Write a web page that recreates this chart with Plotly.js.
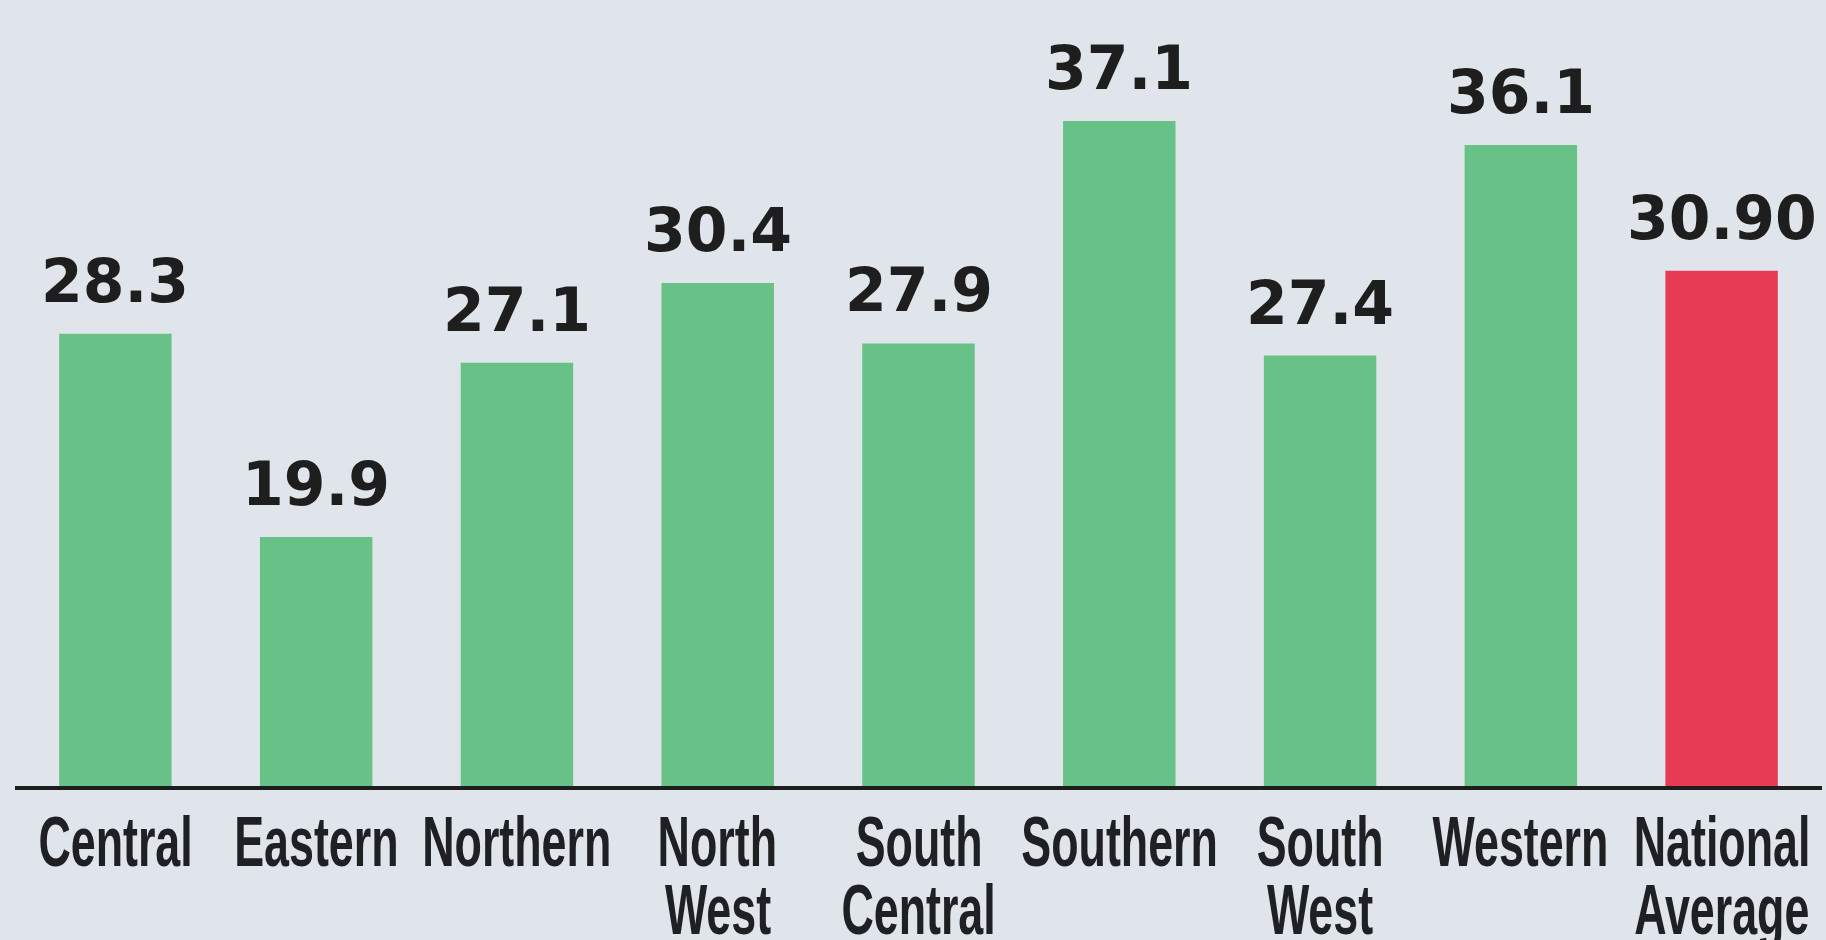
<!DOCTYPE html>
<html>
<head>
<meta charset="utf-8">
<script src="https://cdn.plot.ly/plotly-3.0.1.min.js"></script>
<style>
html,body{margin:0;padding:0;background:#dfe5ea;}
#chart{width:1826px;height:940px;}
</style>
</head>
<body>
<div id="chart"></div>
<script>
const regions = ["Central", "Eastern", "Northern", "North West", "South Central", "Southern", "South West", "Western", "National Average"];
const labelLines = [["Central"], ["Eastern"], ["Northern"], ["North", "West"], ["South", "Central"], ["Southern"], ["South", "West"], ["Western"], ["National", "Average"]];
const values = [28.3, 19.9, 27.1, 30.4, 27.9, 37.1, 27.4, 36.1, 30.90];
const valueLabels = ["28.3", "19.9", "27.1", "30.4", "27.9", "37.1", "27.4", "36.1", "30.90"];
const barColors = ["#68c287", "#68c287", "#68c287", "#68c287", "#68c287", "#68c287", "#68c287", "#68c287", "#e63a55"];

const annotations = [];
regions.forEach((r, i) => {
  annotations.push({
    x: r, y: values[i], xref: 'x', yref: 'y',
    text: valueLabels[i], showarrow: false,
    yanchor: 'bottom', yshift: 16,
    font: {family: 'DejaVu Sans', size: 60, color: '#1e1e1e', weight: 700}
  });
});
regions.forEach((r, i) => {
  labelLines[i].forEach((line, j) => {
    annotations.push({
      x: r, xref: 'x', yref: 'paper', y: 0,
      text: line, showarrow: false, yanchor: 'top',
      yshift: -(15 + j * 68),
      font: {family: 'Liberation Sans, Arial, sans-serif', size: 70, color: '#1f2024', weight: 700}
    });
  });
});

const trace = {
  type: 'bar',
  x: regions,
  y: values,
  marker: {color: barColors, line: {width: 0}},
  hoverinfo: 'x+y'
};

const layout = {
  width: 1826, height: 940,
  margin: {l: 15, r: 4, t: 0, b: 154},
  paper_bgcolor: '#dfe5ea',
  plot_bgcolor: '#dfe5ea',
  bargap: 0.44,
  showlegend: false,
  xaxis: {
    type: 'category',
    range: [-0.5, 8.5], autorange: false,
    showticklabels: false,
    showgrid: false, zeroline: false,
    showline: true, linecolor: '#1e1e1e', linewidth: 4,
    ticks: ''
  },
  yaxis: {
    range: [9.6, 42.1], autorange: false,
    visible: false,
    showgrid: false, zeroline: false
  },
  annotations: annotations
};

Plotly.newPlot('chart', [trace], layout, {displayModeBar: false, staticPlot: true}).then(gd => {
  const nVal = regions.length;
  gd.querySelectorAll('.annotation').forEach(a => {
    const idx = +a.getAttribute('data-index');
    if (idx >= nVal) {
      const t = a.querySelector('text.annotation-text');
      if (t) {
        t.style.transformBox = 'fill-box';
        t.style.transformOrigin = 'center';
        t.style.transform = 'scaleX(0.64)';
      }
    }
  });
});
</script>
</body>
</html>
